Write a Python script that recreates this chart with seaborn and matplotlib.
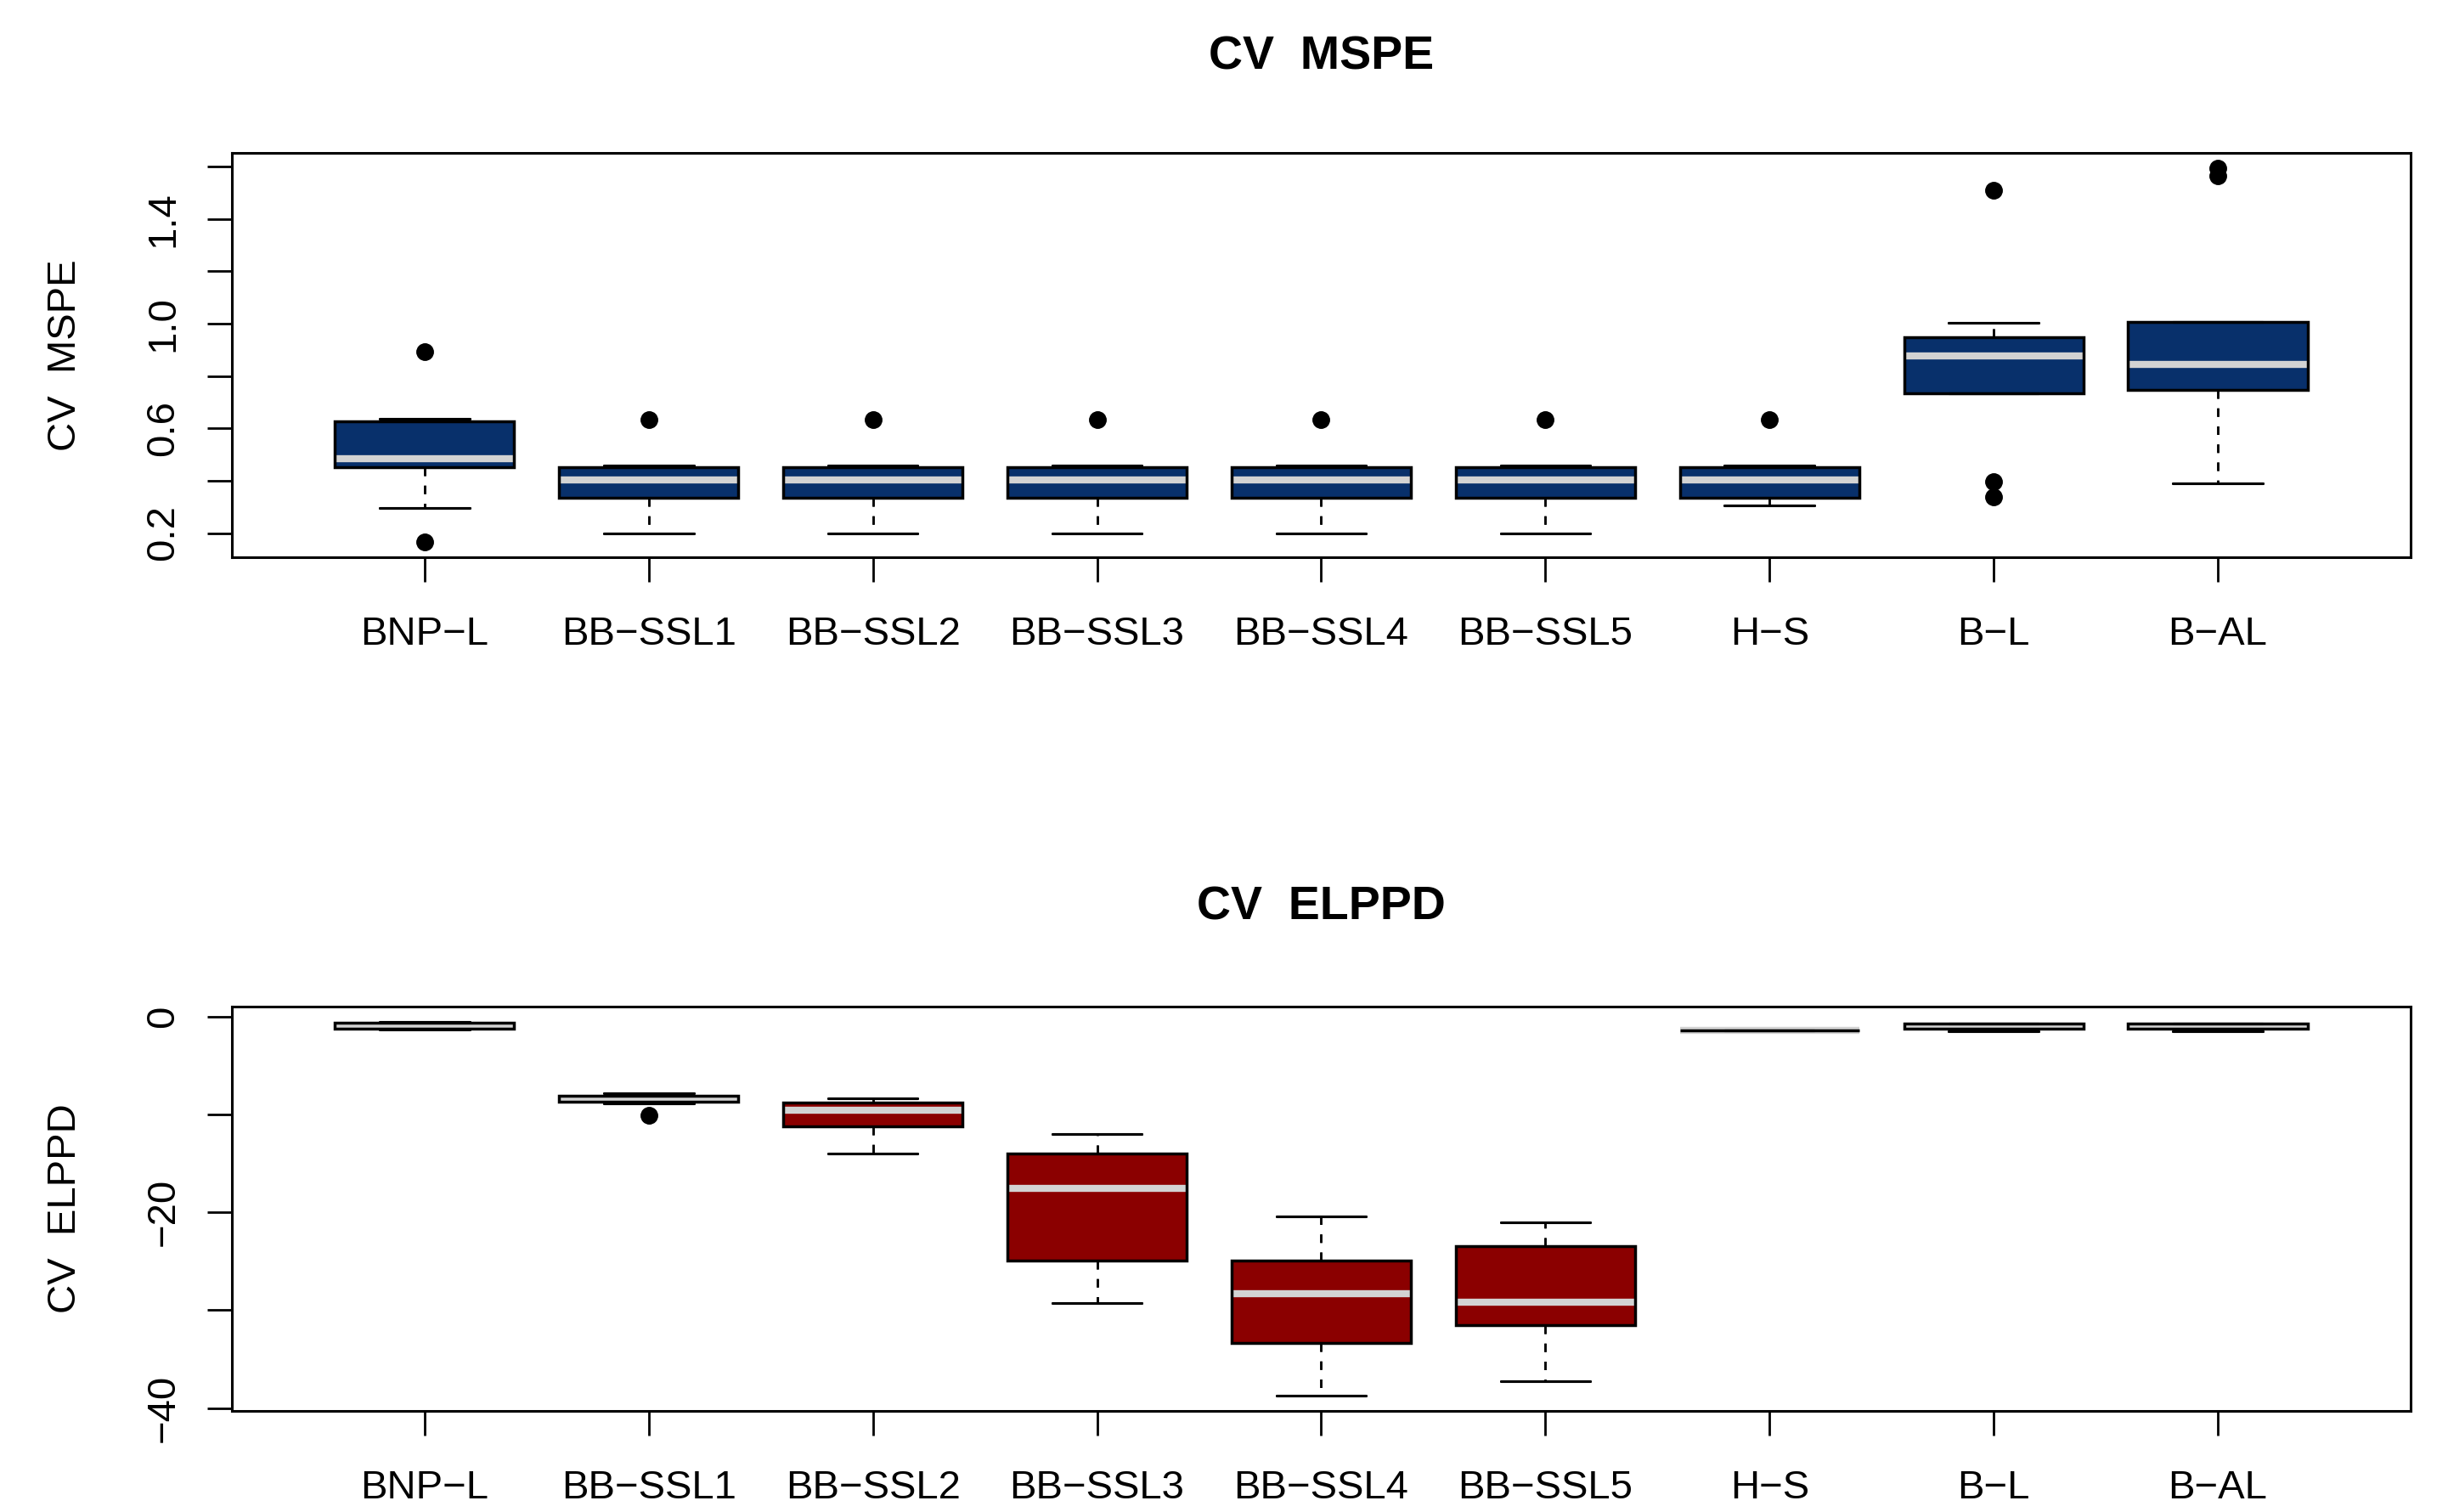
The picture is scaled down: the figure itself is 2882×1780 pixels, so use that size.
import matplotlib
matplotlib.use("Agg")
import matplotlib.pyplot as plt
import seaborn as sns

# models on the x axis
models = ["BNP−L", "BB−SSL1", "BB−SSL2", "BB−SSL3", "BB−SSL4",
          "BB−SSL5", "H−S", "B−L", "B−AL"]

# CV MSPE five-number summaries
mspe_lo = [0.295, 0.198, 0.198, 0.198, 0.198, 0.198, 0.304, 0.735, 0.389]
mspe_q1 = [0.451, 0.336, 0.336, 0.336, 0.336, 0.336, 0.336, 0.735, 0.746]
mspe_med = [0.484, 0.404, 0.404, 0.404, 0.404, 0.404, 0.404, 0.876, 0.845]
mspe_q3 = [0.627, 0.450, 0.450, 0.450, 0.450, 0.450, 0.450, 0.949, 1.005]
mspe_hi = [0.636, 0.457, 0.457, 0.457, 0.457, 0.457, 0.457, 1.004, 1.005]
mspe_out = [[0.893, 0.165], [0.634], [0.634], [0.634], [0.634], [0.634],
            [0.634], [1.510, 0.395, 0.338], [1.595, 1.566]]

# CV ELPPD five-number summaries
elppd_lo = [-1.29, -8.87, -14.02, -29.25, -38.75, -37.22, -1.43, -1.49, -1.49]
elppd_q1 = [-1.20, -8.67, -11.23, -24.94, -33.32, -31.48, -1.42, -1.26, -1.26]
elppd_med = [-0.94, -8.38, -9.53, -17.53, -28.28, -29.15, -1.40, -0.96, -0.96]
elppd_q3 = [-0.59, -8.09, -8.77, -13.95, -24.90, -23.48, -1.38, -0.70, -0.70]
elppd_hi = [-0.50, -7.80, -8.35, -12.03, -20.45, -21.04, -1.37, -0.70, -0.70]
elppd_out = [[], [-10.12], [], [], [], [], [], [], []]

mspe_ticks = [0.2, 0.4, 0.6, 0.8, 1.0, 1.2, 1.4, 1.6]
mspe_ticklabels = ["0.2", "", "0.6", "", "1.0", "", "1.4", ""]
elppd_ticks = [-40, -30, -20, -10, 0]
elppd_ticklabels = ["−40", "", "−20", "", "0"]

sns.set_theme(style="white")
plt.rcParams['font.family'] = ['Liberation Sans', 'DejaVu Sans']
plt.rcParams['text.color'] = 'black'
plt.rcParams['axes.labelcolor'] = 'black'
plt.rcParams['xtick.color'] = 'black'
plt.rcParams['ytick.color'] = 'black'

fig = plt.figure(figsize=(28.82, 17.8), dpi=100)
ax1 = fig.add_axes([0.0947, 0.6315, 0.8900, 0.2674])
ax2 = fig.add_axes([0.0947, 0.0669, 0.8900, 0.2674])


def make_stats(lo, q1, med, q3, hi, out):
    stats = []
    for i in range(len(lo)):
        stats.append({"whislo": lo[i], "q1": q1[i], "med": med[i],
                      "q3": q3[i], "whishi": hi[i], "fliers": out[i]})
    return stats


def draw(ax, stats, color, ticks, ticklabels, title, ylabel, title_pad):
    pos = range(1, len(stats) + 1)
    whisk = dict(color="black", linewidth=1.8, linestyle=(0, (4, 4.5)))
    caps = dict(color="black", linewidth=2.2)
    # filled boxes + grey medians
    ax.bxp(stats, positions=pos, widths=0.8, capwidths=0.4,
           patch_artist=True, zorder=2,
           boxprops=dict(facecolor=color, edgecolor="none", linewidth=0),
           medianprops=dict(color="#D3D3D3", linewidth=6,
                            solid_capstyle="butt"),
           whiskerprops=whisk, capprops=caps,
           flierprops=dict(marker="o", markerfacecolor="black",
                           markeredgecolor="black", markersize=14))
    # box outlines, whiskers and staples on top of the medians
    ax.bxp(stats, positions=pos, widths=0.8, capwidths=0.4,
           patch_artist=True, showfliers=False, zorder=3,
           boxprops=dict(facecolor="none", edgecolor="black", linewidth=2.5),
           medianprops=dict(linewidth=0),
           whiskerprops=whisk, capprops=caps)
    vals = []
    for s in stats:
        vals += [s["whislo"], s["whishi"]] + list(s["fliers"])
    lo, hi = min(vals), max(vals)
    pad = 0.04 * (hi - lo)
    ax.set_ylim(lo - pad, hi + pad)
    n = len(stats)
    ax.set_xlim(0.5 - 0.04 * n, n + 0.5 + 0.04 * n)

    ax.set_xticks(list(pos))
    ax.set_xticklabels(models, fontsize=34)
    ax.set_yticks(ticks)
    ax.set_yticklabels(ticklabels, fontsize=34, rotation=90, va="center")
    ax.tick_params(axis="both", direction="out", length=21, width=2,
                   color="black", bottom=True, left=True)
    ax.tick_params(axis="x", pad=29)
    ax.tick_params(axis="y", pad=21)
    for sp in ax.spines.values():
        sp.set_color("black")
        sp.set_linewidth(2.2)
    ax.set_title(title, fontsize=40, fontweight="bold", pad=title_pad)
    ax.set_ylabel(ylabel, fontsize=34)
    ax.yaxis.set_label_coords(-0.068, 0.5)
    ax.grid(False)


draw(ax1, make_stats(mspe_lo, mspe_q1, mspe_med, mspe_q3, mspe_hi, mspe_out),
     "#08306B", mspe_ticks, mspe_ticklabels, "CV  MSPE", "CV  MSPE", 71)
draw(ax2, make_stats(elppd_lo, elppd_q1, elppd_med, elppd_q3, elppd_hi,
                     elppd_out),
     "#8B0000", elppd_ticks, elppd_ticklabels, "CV  ELPPD", "CV  ELPPD", 74)

fig.savefig("out.png", dpi=100, facecolor="white")
